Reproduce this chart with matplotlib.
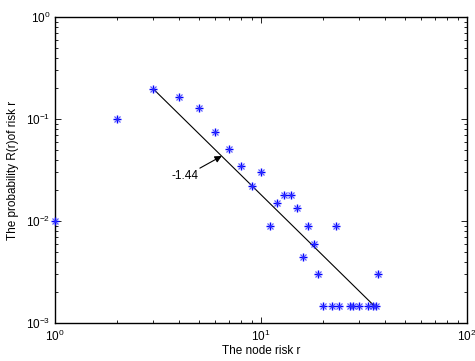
import numpy as np
import matplotlib
matplotlib.use("Agg")
import matplotlib.pyplot as plt

# ── data ──
risk = [1, 2, 3, 4, 5, 6, 7, 8, 9, 10, 11, 12, 13, 14, 15, 16, 17, 18, 19,
        20, 22, 23, 24, 27, 28, 30, 33, 35, 36, 37]
prob = [0.0100, 0.100, 0.197, 0.164, 0.128, 0.0746, 0.0508, 0.0346, 0.0220,
        0.0300, 0.0089, 0.0150, 0.0178, 0.0178, 0.0134, 0.0044, 0.0089, 0.0060,
        0.0030, 0.00147, 0.00147, 0.0089, 0.00147, 0.00147, 0.00147, 0.00147,
        0.00147, 0.00147, 0.00147, 0.0030]

fit_r = [3.0, 35.5]
fit_p = [0.197, 0.00147]

slope_text = "-1.44"
arrow_head = (6.45, 0.0434)
arrow_tail = (5.05, 0.033)
text_pos = (4.95, 0.0276)

plt.rcParams.update({
    "font.family": ["Liberation Sans", "DejaVu Sans"],
    "mathtext.fontset": "custom",
    "mathtext.rm": "Liberation Sans",
    "mathtext.it": "Liberation Sans:italic",
    "font.size": 8.5,
})

fig = plt.figure(figsize=(4.75, 3.61), dpi=100)
ax = fig.add_axes([0.1158, 0.105, 0.9832 - 0.1158, 0.953 - 0.105])

# matlab-style asterisk: strong plus, lighter diagonals
ax.plot(risk, prob, linestyle="none", marker="+", markersize=6,
        markeredgewidth=1.0, color="#0000ff", clip_on=False, zorder=3)
ax.plot(risk, prob, linestyle="none", marker="x", markersize=4,
        markeredgewidth=0.9, color="#3333ff", alpha=0.8, clip_on=False,
        zorder=3)
ax.plot(fit_r, fit_p, color="black", linewidth=0.8)

ax.annotate("", xy=arrow_head, xytext=arrow_tail,
            arrowprops=dict(arrowstyle="-|>", color="black", lw=0.8,
                            mutation_scale=10, shrinkA=0, shrinkB=0))
ax.text(text_pos[0], text_pos[1], slope_text, ha="right", va="center",
        fontsize=8.5)

ax.set_xscale("log")
ax.set_yscale("log")
ax.set_xlim(1, 100)
ax.set_ylim(1e-3, 1)

ax.tick_params(which="both", direction="in", top=True, right=True,
               labelsize=8.5, width=0.6)
ax.tick_params(which="major", length=4)
ax.tick_params(which="minor", length=2.5)
ax.tick_params(axis="x", which="major", pad=4)
for s in ax.spines.values():
    s.set_linewidth(1.0)

ax.set_xlabel("The node risk r", fontsize=8.5, labelpad=1)
ax.set_ylabel("The probability R(r)of risk r", fontsize=8.5, labelpad=5)

fig.savefig("out.png", dpi=100)
